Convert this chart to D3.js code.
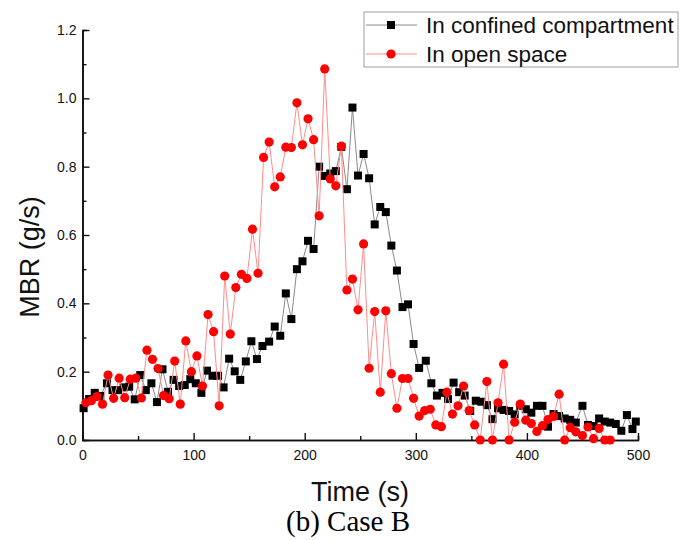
<!DOCTYPE html>
<html>
<head>
<meta charset="utf-8">
<script src="https://cdn.jsdelivr.net/npm/d3@7"></script>
<style>
body { margin: 0; background: #fff; }
svg { display: block; }
</style>
</head>
<body>
<svg width="681" height="540"></svg>
<script>
// series (time in s, MBR in g/s)
var confinedTime = [1, 6, 11, 16, 22, 27, 32, 37, 42, 47,
    52, 57, 62, 67, 72, 77, 82, 87, 92, 97,
    102, 107, 112, 117, 122, 127, 132, 137, 142, 147,
    152, 157, 162, 168, 173, 178, 183, 188, 193, 198,
    203, 208, 213, 218, 223, 228, 233, 238, 243, 248,
    253, 258, 263, 268, 273, 278, 283, 288, 293, 298,
    303, 309, 314, 319, 324, 329, 334, 339, 344, 349,
    354, 359, 364, 369, 374, 379, 384, 389, 394, 399,
    404, 409, 414, 419, 424, 429, 434, 439, 444, 450,
    455, 460, 465, 470, 475, 480, 485, 490, 495, 498];
var confinedMBR = [0.093, 0.12, 0.138, 0.129, 0.166, 0.146, 0.146, 0.154, 0.156, 0.119,
    0.19, 0.146, 0.166, 0.111, 0.207, 0.141, 0.176, 0.158, 0.161, 0.178,
    0.166, 0.138, 0.203, 0.188, 0.188, 0.154, 0.238, 0.201, 0.176, 0.23,
    0.289, 0.237, 0.275, 0.288, 0.332, 0.305, 0.429, 0.354, 0.50, 0.523,
    0.583, 0.559, 0.80, 0.773, 0.78, 0.787, 0.858, 0.734, 0.973, 0.774,
    0.837, 0.766, 0.631, 0.682, 0.667, 0.569, 0.496, 0.389, 0.397, 0.281,
    0.211, 0.232, 0.166, 0.13, 0.138, 0.12, 0.168, 0.14, 0.13, 0.085,
    0.115, 0.112, 0.102, 0.061, 0.093, 0.088, 0.085, 0.075, 0.10, 0.09,
    0.08, 0.10, 0.10, 0.039, 0.076, 0.07, 0.063, 0.059, 0.051, 0.10,
    0.044, 0.041, 0.063, 0.054, 0.051, 0.047, 0.027, 0.073, 0.032, 0.054];

var openTime = [3, 8, 13, 18, 23, 28, 33, 38, 43, 48,
    53, 58, 63, 68, 73, 78, 83, 88, 93, 98,
    103, 108, 113, 118, 123, 128, 133, 138, 143, 148,
    153, 158, 163, 168, 173, 178, 183, 188, 193, 198,
    203, 208, 213, 218, 223, 228, 233, 238, 243, 248,
    253, 258, 263, 268, 273, 278, 283, 288, 293, 298,
    303, 308, 313, 318, 323, 328, 333, 338, 343, 348,
    353, 358, 364, 369, 374, 379, 384, 389, 394, 399,
    404, 409, 414, 419, 424, 429, 434, 439, 444, 450,
    455, 460, 465, 470, 475];
var openMBR = [0.109, 0.115, 0.127, 0.105, 0.19, 0.122, 0.181, 0.124, 0.178, 0.181,
    0.123, 0.263, 0.236, 0.209, 0.13, 0.121, 0.231, 0.105, 0.29, 0.20,
    0.246, 0.158, 0.367, 0.317, 0.10, 0.48, 0.31, 0.446, 0.485, 0.473,
    0.617, 0.488, 0.827, 0.872, 0.741, 0.77, 0.857, 0.856, 0.987, 0.864,
    0.94, 0.879, 0.656, 1.086, 0.764, 0.744, 0.86, 0.439, 0.471, 0.381,
    0.574, 0.21, 0.376, 0.14, 0.378, 0.194, 0.093, 0.18, 0.18, 0.122,
    0.07, 0.086, 0.09, 0.044, 0.039, 0.14, 0.076, 0.10, 0.158, 0.086,
    0.044, 0.0, 0.171, 0.0, 0.109, 0.222, 0.0, 0.052, 0.105, 0.058,
    0.048, 0.025, 0.042, 0.06, 0.069, 0.134, 0.0, 0.036, 0.024, 0.013,
    0.038, 0.004, 0.034, 0.0, 0.0];

var seriesNames = ["In confined compartment", "In open space"];
var xTicks = [0, 100, 200, 300, 400, 500];
var xMinorTicks = [50, 150, 250, 350, 450];
var yTicks = [0, 0.2, 0.4, 0.6, 0.8, 1.0, 1.2];
var yMinorTicks = [0.1, 0.3, 0.5, 0.7, 0.9, 1.1];

var font = "'Liberation Sans', Arial, sans-serif";

var svg = d3.select("svg"),
    margin = { top: 30, right: 43, bottom: 100, left: 82.5 },
    width = +svg.attr("width") - margin.left - margin.right,
    height = +svg.attr("height") - margin.top - margin.bottom;

var x = d3.scaleLinear().domain([0, 500]).range([0, width]);
var y = d3.scaleLinear().domain([0, 1.2]).range([height, 0]);

var g = svg.append("g")
    .attr("transform", "translate(" + margin.left + "," + margin.top + ")");

function zip(t, v) {
    return t.map(function(d, i) { return { t: d, v: v[i] }; });
}
var confined = zip(confinedTime, confinedMBR);
var open = zip(openTime, openMBR);

// axes (ticks point inward, like Origin)
function styleAxis(sel) {
    sel.select(".domain").attr("stroke", "#111").attr("stroke-width", 1.6);
    sel.selectAll(".tick line").attr("stroke", "#111").attr("stroke-width", 1.4);
    sel.selectAll("text").attr("font-family", font).attr("font-size", 14).attr("fill", "#111");
}

g.append("g")
    .attr("transform", "translate(0," + height + ")")
    .call(d3.axisBottom(x).tickValues(xMinorTicks).tickSize(-4).tickFormat(""))
    .call(styleAxis);
g.append("g")
    .attr("transform", "translate(0," + height + ")")
    .call(d3.axisBottom(x).tickValues(xTicks).tickSizeInner(-7).tickSizeOuter(0).tickPadding(10).tickFormat(d3.format("d")))
    .call(styleAxis);

g.append("g")
    .call(d3.axisLeft(y).tickValues(yMinorTicks).tickSize(-4).tickFormat(""))
    .call(styleAxis);
g.append("g")
    .call(d3.axisLeft(y).tickValues(yTicks).tickSizeInner(-7).tickSizeOuter(0).tickPadding(6).tickFormat(d3.format(".1f")))
    .call(styleAxis);

var line = d3.line()
    .x(function(d) { return x(d.t); })
    .y(function(d) { return y(d.v); });

// confined compartment: black squares
g.append("path").datum(confined)
    .attr("fill", "none").attr("stroke", "#8a8a8a").attr("stroke-width", 1)
    .attr("d", line);
g.append("g").selectAll("rect").data(confined).enter().append("rect")
    .attr("x", function(d) { return x(d.t) - 4; })
    .attr("y", function(d) { return y(d.v) - 4; })
    .attr("width", 8).attr("height", 8)
    .attr("fill", "#000");

// open space: red circles
g.append("path").datum(open)
    .attr("fill", "none").attr("stroke", "#ff8c8c").attr("stroke-width", 1)
    .attr("d", line);
g.append("g").selectAll("circle").data(open).enter().append("circle")
    .attr("cx", function(d) { return x(d.t); })
    .attr("cy", function(d) { return y(d.v); })
    .attr("r", 4.6)
    .attr("fill", "#ff0000");

// axis titles
svg.append("text")
    .attr("x", 360).attr("y", 501)
    .attr("text-anchor", "middle")
    .attr("font-family", font).attr("font-size", 27).attr("fill", "#111")
    .text("Time (s)");

svg.append("text")
    .attr("transform", "translate(39,257) rotate(-90)")
    .attr("text-anchor", "middle")
    .attr("font-family", font).attr("font-size", 27).attr("fill", "#111")
    .text("MBR (g/s)");

svg.append("text")
    .attr("x", 348).attr("y", 531)
    .attr("text-anchor", "middle")
    .attr("font-family", "'Liberation Serif', 'Times New Roman', serif").attr("font-size", 29).attr("fill", "#000")
    .text("(b) Case B");

// legend
var legend = svg.append("g");
legend.append("rect")
    .attr("x", 364).attr("y", 12).attr("width", 314).attr("height", 55)
    .attr("fill", "#fff").attr("stroke", "#a0a0a0").attr("stroke-width", 1);

var rows = [
    { name: seriesNames[0], stroke: "#8a8a8a", y: 25, kind: "square" },
    { name: seriesNames[1], stroke: "#ff8c8c", y: 54, kind: "circle" }
];
rows.forEach(function(r) {
    legend.append("line")
        .attr("x1", 366).attr("x2", 417).attr("y1", r.y).attr("y2", r.y)
        .attr("stroke", r.stroke).attr("stroke-width", 1);
    if (r.kind == "square") {
        legend.append("rect").attr("x", 387).attr("y", r.y - 4).attr("width", 8).attr("height", 8).attr("fill", "#000");
    } else {
        legend.append("circle").attr("cx", 391).attr("cy", r.y).attr("r", 4.6).attr("fill", "#ff0000");
    }
    legend.append("text")
        .attr("x", 426).attr("y", r.y + 8)
        .attr("font-family", font).attr("font-size", 22.5).attr("fill", "#111")
        .text(r.name);
});
</script>
</body>
</html>
